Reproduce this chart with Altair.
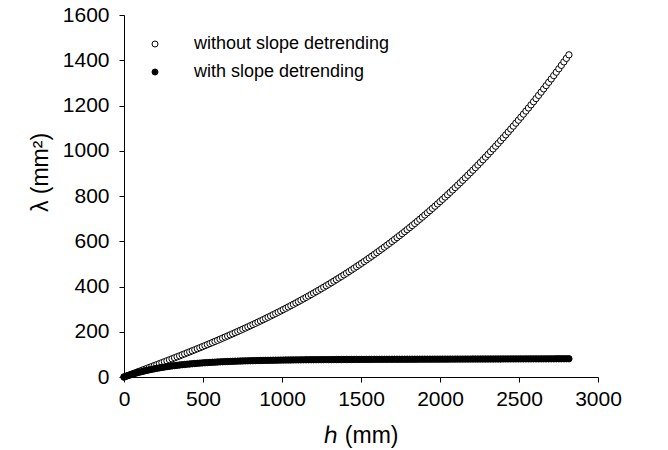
import altair as alt
import pandas as pd

# h grid (mm), sample spacing
h_mm = list(range(0, 2817, 16))

# lambda (mm^2) without slope detrending (open circles)
lam_without = [
    0, 4.2, 8.3, 12.5, 16.7, 20.9, 25.1, 29.2, 33.5, 37.7,
    41.9, 46.1, 50.4, 54.6, 58.9, 63.2, 67.5, 71.8, 76.1, 80.4,
    84.8, 89.2, 93.6, 98.0, 102.4, 106.9, 111.3, 115.8, 120.3, 124.9,
    129.4, 134.0, 138.6, 143.3, 147.9, 152.6, 157.3, 162.1, 166.9, 171.7,
    176.5, 181.4, 186.3, 191.2, 196.2, 201.2, 206.2, 211.3, 216.4, 221.5,
    226.7, 232.0, 237.2, 242.5, 247.9, 253.2, 258.7, 264.1, 269.6, 275.2,
    280.8, 286.4, 292.1, 297.9, 303.7, 309.5, 315.4, 321.3, 327.3, 333.3,
    339.4, 345.6, 351.8, 358.0, 364.3, 370.7, 377.1, 383.6, 390.1, 396.7,
    403.3, 410.0, 416.8, 423.6, 430.5, 437.5, 444.5, 451.6, 458.7, 465.9,
    473.2, 480.5, 488.0, 495.4, 503.0, 510.6, 518.3, 526.0, 533.9, 541.8,
    549.7, 557.8, 565.9, 574.1, 582.4, 590.7, 599.2, 607.7, 616.3, 624.9,
    633.7, 642.5, 651.4, 660.4, 669.5, 678.6, 687.9, 697.2, 706.6, 716.1,
    725.7, 735.4, 745.2, 755.0, 765.0, 775.0, 785.1, 795.4, 805.7, 816.1,
    826.6, 837.2, 847.9, 858.6, 869.5, 880.5, 891.6, 902.8, 914.1, 925.4,
    936.9, 948.5, 960.2, 972.0, 983.9, 995.9, 1008.0, 1020.2, 1032.5, 1045.0,
    1057.5, 1070.2, 1082.9, 1095.8, 1108.8, 1121.9, 1135.1, 1148.4, 1161.8, 1175.4,
    1189.0, 1202.8, 1216.7, 1230.7, 1244.8, 1259.1, 1273.5, 1288.0, 1302.6, 1317.3,
    1332.2, 1347.1, 1362.3, 1377.5, 1392.8, 1408.3, 1423.9,
]

# lambda (mm^2) with slope detrending (filled circles)
lam_with = [
    0, 4.0, 7.7, 11.3, 14.7, 17.9, 21.0, 23.8, 26.6, 29.2,
    31.7, 34.0, 36.2, 38.3, 40.3, 42.2, 44.0, 45.7, 47.3, 48.9,
    50.3, 51.7, 53.0, 54.3, 55.4, 56.6, 57.6, 58.6, 59.6, 60.5,
    61.4, 62.2, 63.0, 63.7, 64.4, 65.1, 65.7, 66.3, 66.9, 67.4,
    68.0, 68.5, 68.9, 69.4, 69.8, 70.2, 70.6, 70.9, 71.3, 71.6,
    71.9, 72.2, 72.5, 72.8, 73.0, 73.3, 73.5, 73.7, 73.9, 74.1,
    74.3, 74.5, 74.7, 74.9, 75.0, 75.2, 75.3, 75.5, 75.6, 75.7,
    75.9, 76.0, 76.1, 76.2, 76.3, 76.4, 76.5, 76.6, 76.7, 76.8,
    76.9, 76.9, 77.0, 77.1, 77.2, 77.2, 77.3, 77.4, 77.4, 77.5,
    77.5, 77.6, 77.6, 77.7, 77.7, 77.8, 77.8, 77.9, 77.9, 78.0,
    78.0, 78.1, 78.1, 78.2, 78.2, 78.2, 78.3, 78.3, 78.4, 78.4,
    78.4, 78.5, 78.5, 78.5, 78.6, 78.6, 78.6, 78.7, 78.7, 78.7,
    78.8, 78.8, 78.8, 78.9, 78.9, 78.9, 79.0, 79.0, 79.0, 79.1,
    79.1, 79.1, 79.2, 79.2, 79.2, 79.3, 79.3, 79.3, 79.4, 79.4,
    79.4, 79.5, 79.5, 79.5, 79.6, 79.6, 79.6, 79.7, 79.7, 79.7,
    79.8, 79.8, 79.8, 79.9, 79.9, 79.9, 80.0, 80.0, 80.0, 80.1,
    80.1, 80.1, 80.2, 80.2, 80.2, 80.3, 80.3, 80.3, 80.4, 80.4,
    80.4, 80.5, 80.5, 80.5, 80.6, 80.6, 80.6,
]

series_names = ["without slope detrending", "with slope detrending"]
x_ticks = [0, 500, 1000, 1500, 2000, 2500, 3000]
y_ticks = [0, 200, 400, 600, 800, 1000, 1200, 1400, 1600]

rows = []
for name, vals in zip(series_names, [lam_without, lam_with]):
    for h, v in zip(h_mm, vals):
        rows.append({"h": h, "lam": v, "series": name, "ord": len(rows)})
df = pd.DataFrame(rows)

FONT = "Liberation Sans"
PLOT_W = 474
PLOT_H = 362

chart = (
    alt.Chart(df)
    .mark_circle(size=40, stroke="black", strokeWidth=1, opacity=1)
    .encode(
        x=alt.X(
            "h:Q",
            scale=alt.Scale(domain=[0, 3000], nice=False, zero=False),
            axis=alt.Axis(values=x_ticks, title="ℎ (mm)", format="d",
                          titlePadding=15, labelFlush=False),
        ),
        y=alt.Y(
            "lam:Q",
            scale=alt.Scale(domain=[0, 1600], nice=False),
            axis=alt.Axis(values=y_ticks, title="λ  (mm²)", format="d",
                          labelPadding=10, labelFlush=False,
                          titleAngle=270, titleX=-84,
                          titleY=157, titleAlign="center",
                          titleBaseline="middle"),
        ),
        fill=alt.Fill(
            "series:N",
            scale=alt.Scale(domain=series_names, range=["white", "black"]),
            legend=alt.Legend(
                title=None,
                orient="none",
                legendX=22,
                legendY=20,
                symbolType="circle",
                symbolSize=36,
                symbolStrokeColor="black",
                symbolStrokeWidth=1,
                labelFont=FONT,
                labelFontSize=18,
                labelColor="black",
                labelLimit=400,
                labelOffset=30,
                rowPadding=10,
                padding=0,
            ),
        ),
        order=alt.Order("ord:Q"),
    )
    .properties(
        width=PLOT_W,
        height=PLOT_H,
        autosize=alt.AutoSizeParams(type="none"),
        padding={"left": 124, "top": 15, "right": 668 - 124 - PLOT_W,
                 "bottom": 450 - 15 - PLOT_H},
    )
    .configure_view(stroke=None)
    .configure_axis(
        grid=False,
        domainColor="black",
        domainWidth=1,
        tickColor="black",
        tickSize=5,
        tickWidth=1,
        labelFont=FONT,
        labelFontSize=21,
        labelColor="black",
        titleFont=FONT,
        titleFontSize=23,
        titleFontWeight="normal",
        titleColor="black",
        labelPadding=6,
    )
)

chart.save("out.html", embed_options={"renderer": "svg", "actions": False})
